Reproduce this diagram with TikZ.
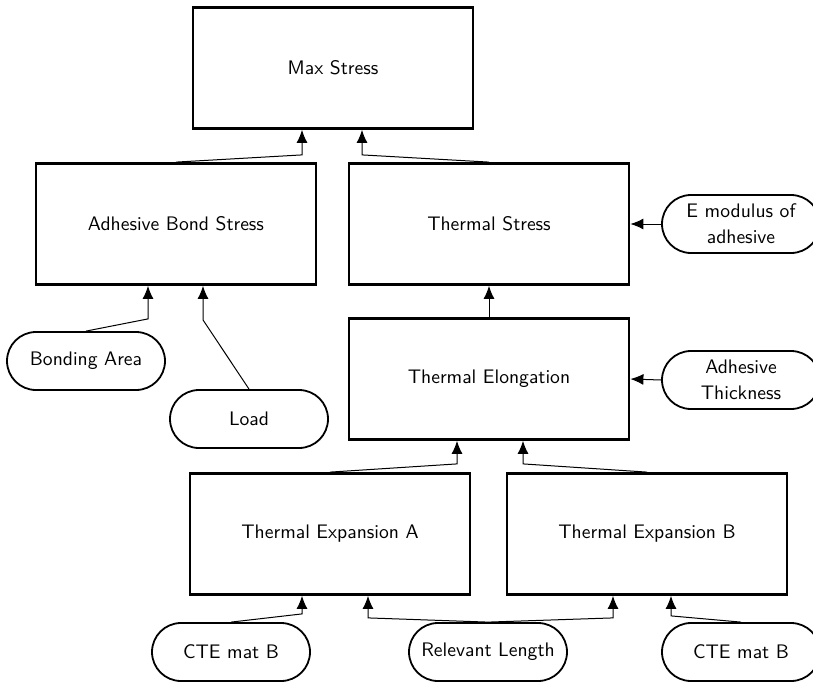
\documentclass[tikz,border=0pt]{standalone}
\usetikzlibrary{arrows.meta, calc, positioning}

\begin{document}
\begin{tikzpicture}[
x = 0.5pt, y = -0.5pt,
 font = \sffamily\fontsize{9.8}{11.5}\selectfont,
   box/.style = {draw, line width=1.4pt,
                 minimum width=140pt, minimum height=60.5pt,
                 align=center, inner sep=2mm},
   pill/.style = {draw, line width=0.9pt, rounded corners=14.5pt,
                 minimum width=79pt, minimum height=29pt,
                 align=center, inner sep=1mm,
                 font=\sffamily\fontsize{9.8}{13}\selectfont},
   arr/.style = {line width=0.5pt,
                 -{Latex[length=6.5pt,width=5.5pt]}}
                        ]
\useasboundingbox (0,0) rectangle (813,685);
    % blocks (boxes)
\node (max) [box] at (333, 68)  {Max Stress};
\node (abs) [box] at (176,224)  {Adhesive Bond Stress};
\node (ts)  [box] at (489,224)  {Thermal Stress};
\node (te)  [box] at (489,379)  {Thermal Elongation};
\node (tea) [box] at (330,534)  {Thermal Expansion A};
\node (teb) [box] at (647,534)  {Thermal Expansion B};
    % inputs (pills)
\node (ba)   [pill] at ( 86,361) {Bonding Area};
\node (load) [pill] at (249,419) {Load};
\node (emod) [pill] at (741,224) {E modulus of\\adhesive};
\node (ath)  [pill] at (741,380) {Adhesive\\Thickness};
\node (ctea) [pill] at (231,652) {CTE mat B};
\node (rl)   [pill] at (488,652) {Relevant Length};
\node (cteb) [pill] at (741,652) {CTE mat B};
    % arrows
\draw[arr] (abs.north) -- ([xshift=-15.5pt,yshift=-12.5pt]max.south)
                       -- ([xshift=-15.5pt]max.south);
\draw[arr] (ts.north)  -- ([xshift=14.5pt,yshift=-12.5pt]max.south)
                       -- ([xshift=14.5pt]max.south);
\draw[arr] (te.north)  -- (ts.south);
\draw[arr] (emod.west) -- (ts.east);
\draw[arr] (ath.west)  -- (te.east);
\draw[arr] (ba.north)  -- ([xshift=-14pt,yshift=-16.5pt]abs.south)
                       -- ([xshift=-14pt]abs.south);
\draw[arr] (load.north) -- ([xshift=13.5pt,yshift=-17pt]abs.south)
                        -- ([xshift=13.5pt]abs.south);
\draw[arr] (tea.north) -- ([xshift=-16pt,yshift=-11.5pt]te.south)
                       -- ([xshift=-16pt]te.south);
\draw[arr] (teb.north) -- ([xshift=17pt,yshift=-11.5pt]te.south)
                       -- ([xshift=17pt]te.south);
\draw[arr] (ctea.north) -- ([xshift=-14pt,yshift=-9pt]tea.south)
                        -- ([xshift=-14pt]tea.south);
\draw[arr] (rl.north)  -- ([xshift=19pt,yshift=-11pt]tea.south)
                       -- ([xshift=19pt]tea.south);
\draw[arr] (rl.north)  -- ([xshift=-17pt,yshift=-11pt]teb.south)
                       -- ([xshift=-17pt]teb.south);
\draw[arr] (cteb.north) -- ([xshift=12pt,yshift=-10pt]teb.south)
                        -- ([xshift=12pt]teb.south);
\end{tikzpicture}
\end{document}
